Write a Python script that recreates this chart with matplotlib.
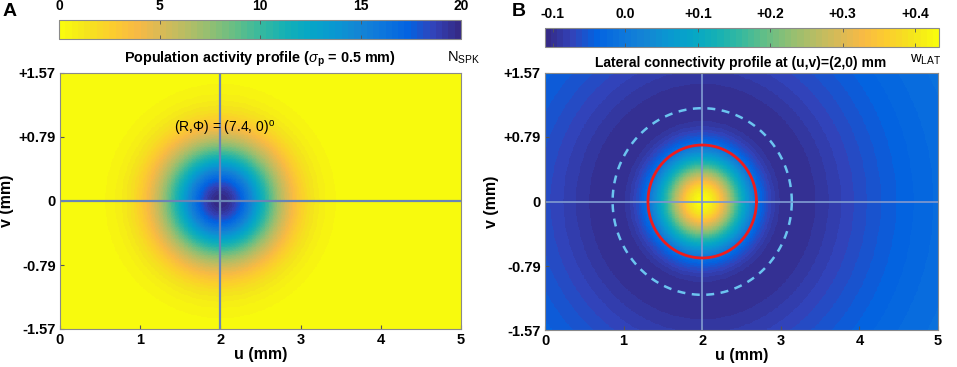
import numpy as np
import matplotlib
matplotlib.use("Agg")
import matplotlib.pyplot as plt
from matplotlib.colors import LinearSegmentedColormap

plt.rcParams["font.family"] = ["Liberation Sans", "DejaVu Sans"]
plt.rcParams["mathtext.fontset"] = "custom"
plt.rcParams["mathtext.rm"] = "Liberation Sans"
plt.rcParams["mathtext.it"] = "Liberation Sans:italic"
plt.rcParams["mathtext.bf"] = "Liberation Sans:bold"

# data
U_RANGE = [0, 5]
V_RANGE = [-1.57, 1.57]
CENTER = (2.0, 0.0)
X_TICKS = [0, 1, 2, 3, 4, 5]
Y_TICKS = [-1.57, -0.79, 0, 0.79, 1.57]
Y_TICKLABELS = ["-1.57", "-0.79", "0", "+0.79", "+1.57"]

# panel A: population activity (gaussian, sigma_p from title)
SPK_PEAK = 20.0
SIGMA_P = 0.5
SPK_TICKS = [0, 5, 10, 15, 20]

# panel B: lateral connectivity (excitatory centre, inhibitory surround)
W_EXC, SIG_EXC = 0.575, 0.39
W_INH, SIG_INH = 0.142, 1.6
W_LIMS = [-0.111, 0.433]
W_TICKS = [-0.1, 0.0, 0.1, 0.2, 0.3, 0.4]
W_TICKLABELS = ["-0.1", "0.0", "+0.1", "+0.2", "+0.3", "+0.4"]
ZERO_RADIUS = 0.69
MIN_RADIUS = 1.14

# MATLAB parula, 64 entries
PARULA = [
    (0.2081, 0.1663, 0.5292), (0.1959, 0.2645, 0.7279), (0.0117, 0.3875, 0.8820),
    (0.0498, 0.4586, 0.8641), (0.0793, 0.5200, 0.8312), (0.0343, 0.5966, 0.8199),
    (0.0228, 0.6535, 0.7768), (0.0843, 0.6928, 0.7062), (0.2178, 0.7250, 0.6193),
    (0.3953, 0.7459, 0.5244), (0.5709, 0.7485, 0.4494), (0.7184, 0.7411, 0.3905),
    (0.8507, 0.7299, 0.3360), (0.9739, 0.7314, 0.2666), (0.9880, 0.8066, 0.1794),
    (0.9589, 0.8949, 0.1132), (0.9763, 0.9831, 0.0538),
]
parula = LinearSegmentedColormap.from_list("parula", PARULA, N=64)
parula_r = parula.reversed()

u = np.linspace(U_RANGE[0], U_RANGE[1], 500)
v = np.linspace(V_RANGE[0], V_RANGE[1], 320)
UU, VV = np.meshgrid(u, v)
R2 = (UU - CENTER[0]) ** 2 + (VV - CENTER[1]) ** 2
spk = SPK_PEAK * np.exp(-R2 / (2 * SIGMA_P ** 2))
w_lat = W_EXC * np.exp(-R2 / (2 * SIG_EXC ** 2)) - W_INH * np.exp(-R2 / (2 * SIG_INH ** 2))

W, H = 957, 367
fig = plt.figure(figsize=(W / 100, H / 100), dpi=100)


def box(x0, y0, x1, y1):
    return [x0 / W, 1 - y1 / H, (x1 - x0) / W, (y1 - y0) / H]


def style_axes(ax):
    ax.set_xlim(U_RANGE)
    ax.set_ylim(V_RANGE)
    ax.set_xticks(X_TICKS)
    ax.set_yticks(Y_TICKS)
    ax.set_yticklabels(Y_TICKLABELS)
    ax.tick_params(direction="in", length=3, width=0.8, color="#555555",
                   labelsize=10.5, pad=3)
    for lab in ax.get_xticklabels() + ax.get_yticklabels():
        lab.set_fontweight("bold")
    for sp in ax.spines.values():
        sp.set_color("#8a8a8a")
        sp.set_linewidth(0.8)
    ax.set_xlabel("u (mm)", fontsize=11.5, fontweight="bold", labelpad=0)
    ax.set_ylabel("v (mm)", fontsize=11.5, fontweight="bold", labelpad=3)


def style_cbar(cax, ticks, labels):
    cax.set_xticks(ticks)
    cax.set_xticklabels(labels)
    cax.set_yticks([])
    cax.xaxis.set_ticks_position("both")
    cax.tick_params(axis="x", direction="in", length=3, width=0.6, color="#555555",
                    labeltop=True, labelbottom=False, labelsize=10, pad=5)
    for lab in cax.get_xticklabels():
        lab.set_fontweight("bold")
    for sp in cax.spines.values():
        sp.set_color("#8a8a8a")
        sp.set_linewidth(0.8)


th = np.linspace(0, 2 * np.pi, 400)

# ---- panel A ----
axA = fig.add_axes(box(60, 73, 461, 329))
imA = axA.imshow(spk, origin="lower", extent=U_RANGE + V_RANGE, aspect="auto",
                 cmap=parula_r, vmin=SPK_TICKS[0], vmax=SPK_TICKS[-1],
                 interpolation="nearest")
axA.axhline(CENTER[1], color="#6a85b5", lw=1.6)
axA.axvline(CENTER[0], color="#6a85b5", lw=1.6)
axA.text(2.05, 0.89, r"(R,$\Phi$) = (7.4, 0)$^{\rm o}$", ha="center", va="center",
         fontsize=10)
style_axes(axA)

caxA = fig.add_axes(box(59, 20, 461, 39))
cbA = fig.colorbar(imA, cax=caxA, orientation="horizontal")
cbA.outline.set_edgecolor("#8a8a8a")
style_cbar(caxA, SPK_TICKS, [str(t) for t in SPK_TICKS])

fig.text(260 / W, 1 - 59 / H, r"Population activity profile ($\sigma_{\mathbf{p}}$ = 0.5 mm)",
         ha="center", va="center", fontsize=10.4, fontweight="bold")
fig.text(447 / W, 1 - 58 / H, r"N$_{\rm SPK}$", ha="left", va="center", fontsize=10.5)
fig.text(3 / W, 1 - 12 / H, "A", ha="left", va="center", fontsize=14, fontweight="bold")

# ---- panel B ----
axB = fig.add_axes(box(545, 73, 938, 330))
imB = axB.imshow(w_lat, origin="lower", extent=U_RANGE + V_RANGE, aspect="auto",
                 cmap=parula, vmin=W_LIMS[0], vmax=W_LIMS[1], interpolation="nearest")
axB.axhline(CENTER[1], color="#7d97cf", lw=1.4, alpha=0.9)
axB.axvline(CENTER[0], color="#7d97cf", lw=1.4, alpha=0.9)
axB.plot(CENTER[0] + MIN_RADIUS * np.cos(th), CENTER[1] + MIN_RADIUS * np.sin(th),
         color="#6cc4f0", lw=1.8, linestyle=(0, (3.2, 2.6)))
axB.plot(CENTER[0] + ZERO_RADIUS * np.cos(th), CENTER[1] + ZERO_RADIUS * np.sin(th),
         color="#ee1c1c", lw=2.0)
style_axes(axB)

caxB = fig.add_axes(box(545, 28, 939, 47))
cbB = fig.colorbar(imB, cax=caxB, orientation="horizontal")
cbB.outline.set_edgecolor("#8a8a8a")
style_cbar(caxB, W_TICKS, W_TICKLABELS)

fig.text(741 / W, 1 - 63 / H, "Lateral connectivity profile at (u,v)=(2,0) mm",
         ha="center", va="center", fontsize=10, fontweight="bold")
fig.text(910 / W, 1 - 60 / H, r"w$_{\rm LAT}$", ha="left", va="center", fontsize=10.5)
fig.text(512 / W, 1 - 12 / H, "B", ha="left", va="center", fontsize=14, fontweight="bold")

fig.savefig("out.png", dpi=100)
